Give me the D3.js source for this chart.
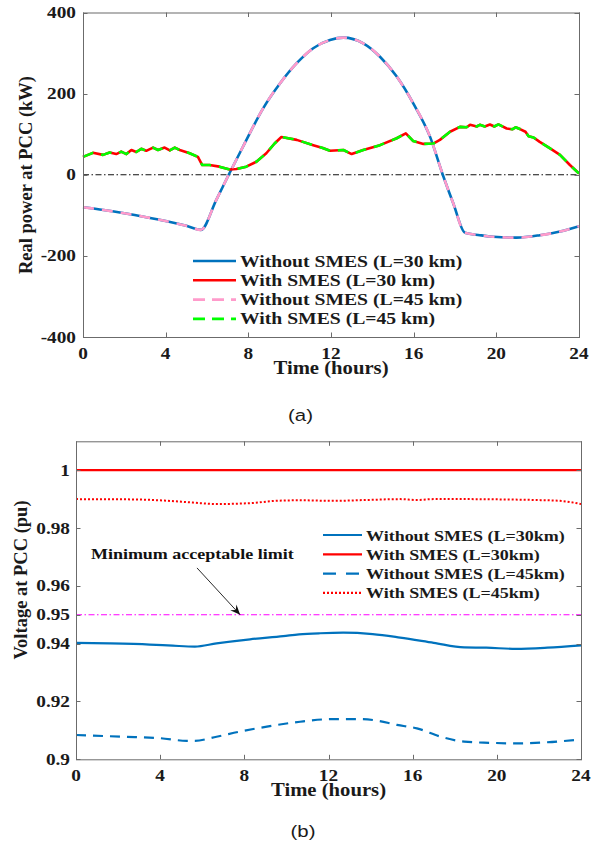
<!DOCTYPE html>
<html>
<head>
<meta charset="utf-8">
<script src="https://cdn.jsdelivr.net/npm/d3@7"></script>
<style>
  html, body { margin: 0; padding: 0; background: #fff; }
  svg { display: block; }
</style>
</head>
<body>
<svg id="chart" width="602" height="843"></svg>
<script>
// ---------------- DATA ----------------
// (a) Real power at PCC (kW) vs time (hours)
const xTicks = [0, 4, 8, 12, 16, 20, 24];
const powerTicks = [-400, -200, 0, 200, 400];

const powerTimeWithout = [0, 1, 2, 3, 4, 5, 5.7, 6.45, 7.05, 7.74, 8.73, 9.53, 10.34, 11.14, 11.95, 12.6, 13.56, 14.37, 15.18, 15.98, 16.79, 17.43, 17.92, 18.48, 19.2, 19.85, 20.98, 22.11, 23.08, 24];
const powerWithout30 = [-80, -87, -95, -104, -114, -126, -136, -62, 0, 69, 165, 225, 275, 312, 332, 338, 324, 291, 242, 176, 94, -3, -71, -143, -149, -153, -155, -149, -140, -127];
const powerWithout45 = [-80, -87, -95, -104, -114, -126, -136, -62, 0, 69, 165, 225, 275, 312, 332, 338, 324, 291, 242, 176, 94, -3, -71, -143, -149, -153, -155, -149, -140, -127];

const powerTimeWith = [0, 0.48, 0.97, 1.29, 1.61, 1.85, 2.1, 2.34, 2.58, 2.82, 3.06, 3.39, 3.63, 3.95, 4.2, 4.44, 4.68, 5.16, 5.56, 5.77, 6.12, 6.6, 7.1, 7.42, 7.9, 8.39, 8.87, 9.27, 9.6, 10.34, 11.14, 11.6, 11.95, 12.6, 13.0, 13.56, 14.37, 15.18, 15.62, 15.98, 16.47, 16.95, 17.27, 17.76, 18.24, 18.56, 18.73, 19.05, 19.2, 19.44, 19.69, 19.9, 20.1, 20.5, 20.77, 20.93, 21.17, 21.41, 21.56, 21.8, 22.1, 22.6, 23.08, 23.56, 24];
const powerWith30 = [44, 54, 49, 55, 51, 57, 51, 61, 56, 64, 59, 67, 61, 67, 60, 67, 61, 53, 44, 24, 24, 20, 13, 14, 20, 32, 53, 77, 93, 86, 73, 66, 59, 61, 51, 61, 73, 90, 102, 83, 76, 77, 86, 106, 118, 117, 123, 119, 123, 119, 124, 119, 124, 114, 112, 117, 112, 106, 95, 92, 81, 65, 49, 24, 3];
const powerWith45 = [44, 54, 49, 55, 51, 57, 51, 61, 56, 64, 59, 67, 61, 67, 60, 67, 61, 53, 44, 24, 24, 20, 13, 14, 20, 32, 53, 77, 93, 86, 73, 66, 59, 61, 51, 61, 73, 90, 102, 83, 76, 77, 86, 106, 118, 117, 123, 119, 123, 119, 124, 119, 124, 114, 112, 117, 112, 106, 95, 92, 81, 65, 49, 24, 3];

const powerLegend = ["Without SMES (L=30 km)", "With SMES (L=30 km)", "Without SMES (L=45 km)", "With SMES (L=45 km)"];

// (b) Voltage at PCC (pu) vs time (hours)
const voltTicks = [0.9, 0.92, 0.94, 0.95, 0.96, 0.98, 1];
const voltTicksLabels = ["0.9", "0.92", "0.94", "0.95", "0.96", "0.98", "1"];

const voltTimeWithout30 = [0, 1.6, 3.5, 4.6, 5.65, 6.68, 8.27, 9.85, 10.6, 11.6, 12.7, 14.1, 15.4, 17.0, 18.45, 19.5, 20.9, 22.4, 24];
const voltWithout30 = [0.9403, 0.9401, 0.9397, 0.9393, 0.9390, 0.9401, 0.9415, 0.9426, 0.9432, 0.9436, 0.9438, 0.9433, 0.9421, 0.9403, 0.9387, 0.9386, 0.9382, 0.9386, 0.9394];

const voltTimeWith30 = [0, 24];
const voltWith30 = [1.0, 1.0];

const voltTimeWithout45 = [0, 2.25, 4, 5.27, 5.65, 6.68, 7.8, 9.07, 10.65, 12.2, 13.5, 14.3, 15.25, 16.2, 17.35, 18.45, 19.7, 20.95, 22.4, 24];
const voltWithout45 = [0.9084, 0.9078, 0.9073, 0.9064, 0.9064, 0.9078, 0.9096, 0.9113, 0.9130, 0.9139, 0.9139, 0.9134, 0.9119, 0.9107, 0.9078, 0.9061, 0.9057, 0.9055, 0.9059, 0.9069];

const voltTimeWith45 = [0, 2.7, 4.2, 5.57, 6.68, 8.27, 9.5, 10.65, 12.2, 13.8, 15.4, 16.2, 17, 18.6, 20.2, 21.8, 23, 24];
const voltWith45 = [0.9900, 0.9899, 0.9895, 0.9888, 0.9883, 0.9886, 0.9894, 0.9896, 0.9894, 0.9897, 0.9900, 0.9897, 0.9900, 0.9900, 0.9899, 0.9897, 0.9894, 0.9883];

const minLimit = 0.95;
const voltLegend = ["Without SMES (L=30km)", "With SMES (L=30km)", "Without SMES (L=45km)", "With SMES (L=45km)"];

// ---------------- DRAWING ----------------
const svg = d3.select("#chart");
const SERIF = "'Liberation Serif', 'Times New Roman', serif";
const SANS = "'Liberation Sans', Arial, sans-serif";
const AXIS = "#6b6b6b";
const BLUE = "#0072BD", RED = "#FF0000", PINK = "#FF9BCB", GREEN = "#00FF00", MAGENTA = "#FF00FF";

function text(g, x, y, s, o) {
  o = o || {};
  const sx = o.sx || 1.17;
  const t = g.append("text")
    .attr("transform", `translate(${x},${y}) rotate(${o.rot || 0}) scale(${o.rot ? 1 : sx},1)`)
    .attr("font-family", o.family || SERIF)
    .attr("font-weight", o.weight || "bold")
    .attr("font-size", o.size || 16.5)
    .attr("text-anchor", o.anchor || "start")
    .attr("fill", o.fill || "#1a1a1a")
    .text(s);
  return t;
}

function zip(xs, ys) { return xs.map((x, i) => [x, ys[i]]); }

function frame(g, x, y, tickXs, tickYs) {
  const [x0, x1] = x.range(), [y0, y1] = y.range();
  const TL = 4.5;
  // ticks inside
  tickXs.forEach(v => {
    const px = Math.round(x(v)) + 0.5;
    g.append("line").attr("x1", px).attr("x2", px).attr("y1", y0).attr("y2", y0 - TL).attr("stroke", AXIS);
    g.append("line").attr("x1", px).attr("x2", px).attr("y1", y1).attr("y2", y1 + TL).attr("stroke", AXIS);
  });
  tickYs.forEach(v => {
    const py = Math.round(y(v)) + 0.5;
    g.append("line").attr("x1", x0).attr("x2", x0 + TL).attr("y1", py).attr("y2", py).attr("stroke", AXIS);
    g.append("line").attr("x1", x1).attr("x2", x1 - TL).attr("y1", py).attr("y2", py).attr("stroke", AXIS);
  });
  g.append("rect").attr("x", x0 + 0.5).attr("y", y1 + 0.5).attr("width", x1 - x0).attr("height", y0 - y1)
    .attr("fill", "none").attr("stroke", AXIS).attr("stroke-width", 1);
}

// ======== (a) ========
const xa = d3.scaleLinear().domain([0, 24]).range([83, 579]);
const ya = d3.scaleLinear().domain([-400, 400]).range([337, 12.5]);
const ga = svg.append("g");

const lineA = d3.line().x(d => xa(d[0])).y(d => ya(d[1]));
const lineAsmooth = d3.line().x(d => xa(d[0])).y(d => ya(d[1])).curve(d3.curveMonotoneX);

// zero reference line
ga.append("line").attr("x1", xa(0)).attr("x2", xa(24)).attr("y1", ya(0)).attr("y2", ya(0))
  .attr("stroke", "#111").attr("stroke-width", 1).attr("stroke-dasharray", "6,2.5,1.5,2.5");

ga.append("path").attr("d", lineAsmooth(zip(powerTimeWithout, powerWithout30)))
  .attr("fill", "none").attr("stroke", BLUE).attr("stroke-width", 2.6);
ga.append("path").attr("d", lineA(zip(powerTimeWith, powerWith30)))
  .attr("fill", "none").attr("stroke", RED).attr("stroke-width", 2.6).attr("stroke-linejoin", "round");
ga.append("path").attr("d", lineAsmooth(zip(powerTimeWithout, powerWithout45)))
  .attr("fill", "none").attr("stroke", PINK).attr("stroke-width", 2.6).attr("stroke-dasharray", "11,8");
ga.append("path").attr("d", lineA(zip(powerTimeWith, powerWith45)))
  .attr("fill", "none").attr("stroke", GREEN).attr("stroke-width", 2.6).attr("stroke-dasharray", "11,8").attr("stroke-linejoin", "round");

frame(ga, xa, ya, xTicks, powerTicks);

xTicks.forEach(v => text(ga, xa(v), 358.5, String(v), { anchor: "middle" }));
powerTicks.forEach(v => text(ga, 76, ya(v) + 5.5, String(v), { anchor: "end" }));
text(ga, (xa(0) + xa(24)) / 2, 374, "Time (hours)", { anchor: "middle", size: 18, sx: 1.15 });
text(ga, 32, 175, "Real power at PCC (kW)", { anchor: "middle", size: 18.5, rot: -90 });

// legend (a)
const legA = [
  { c: BLUE, dash: null }, { c: RED, dash: null },
  { c: PINK, dash: "12,7" }, { c: GREEN, dash: "12,7" }
];
legA.forEach((s, i) => {
  const yy = 261 + i * 19.3;
  ga.append("line").attr("x1", 193).attr("x2", 236).attr("y1", yy).attr("y2", yy)
    .attr("stroke", s.c).attr("stroke-width", 2.6).attr("stroke-dasharray", s.dash);
  text(ga, 240, yy + 5.5, powerLegend[i], { size: 16, sx: 1.23 });
});

text(svg, 300.5, 421, "(a)", { family: SANS, weight: "normal", size: 17, anchor: "middle", sx: 1.2 });

// ======== (b) ========
const xb = d3.scaleLinear().domain([0, 24]).range([76, 581]);
const yb = d3.scaleLinear().domain([0.9, 1.01]).range([759.3, 441.3]);
const gb = svg.append("g");
const lineB = d3.line().x(d => xb(d[0])).y(d => yb(d[1])).curve(d3.curveMonotoneX);

gb.append("line").attr("x1", xb(0)).attr("x2", xb(24)).attr("y1", yb(minLimit)).attr("y2", yb(minLimit))
  .attr("stroke", MAGENTA).attr("stroke-width", 1.2).attr("stroke-dasharray", "6,2.5,1.5,2.5");

gb.append("path").attr("d", lineB(zip(voltTimeWithout30, voltWithout30)))
  .attr("fill", "none").attr("stroke", BLUE).attr("stroke-width", 2.2);
gb.append("path").attr("d", lineB(zip(voltTimeWith30, voltWith30)))
  .attr("fill", "none").attr("stroke", RED).attr("stroke-width", 2.2);
gb.append("path").attr("d", lineB(zip(voltTimeWithout45, voltWithout45)))
  .attr("fill", "none").attr("stroke", BLUE).attr("stroke-width", 2.2).attr("stroke-dasharray", "10,7");
gb.append("path").attr("d", lineB(zip(voltTimeWith45, voltWith45)))
  .attr("fill", "none").attr("stroke", RED).attr("stroke-width", 2).attr("stroke-dasharray", "2,2");

frame(gb, xb, yb, xTicks, voltTicks);

xTicks.forEach(v => text(gb, xb(v), 780.5, String(v), { anchor: "middle" }));
voltTicks.forEach((v, i) => text(gb, 70, yb(v) + 5.5, voltTicksLabels[i], { anchor: "end" }));
text(gb, (xb(0) + xb(24)) / 2, 796, "Time (hours)", { anchor: "middle", size: 18, sx: 1.15 });
text(gb, 27, 580, "Voltage at PCC (pu)", { anchor: "middle", size: 18.5, rot: -90 });

// annotation
text(gb, xb(0.71), yb(0.9694), "Minimum acceptable limit", { size: 15, sx: 1.2, fill: "#111" });
const ax0 = xb(5.75), ay0 = yb(0.9662), ax1 = xb(7.8), ay1 = yb(minLimit);
gb.append("line").attr("x1", ax0).attr("y1", ay0).attr("x2", ax1).attr("y2", ay1)
  .attr("stroke", "#111").attr("stroke-width", 0.9);
{
  const ang = Math.atan2(ay1 - ay0, ax1 - ax0);
  const L = 10, W = 4.2, N = 6.5;
  const bx = ax1 - L * Math.cos(ang), by = ay1 - L * Math.sin(ang);
  const nx = ax1 - N * Math.cos(ang), ny = ay1 - N * Math.sin(ang);
  const px = -Math.sin(ang), py = Math.cos(ang);
  const p = d3.path();
  p.moveTo(ax1, ay1);
  p.lineTo(bx + W * px, by + W * py);
  p.lineTo(nx, ny);
  p.lineTo(bx - W * px, by - W * py);
  p.closePath();
  gb.append("path").attr("d", p.toString()).attr("fill", "#111");
}

// legend (b)
const legB = [
  { c: BLUE, dash: null }, { c: RED, dash: null },
  { c: BLUE, dash: "13,10" }, { c: RED, dash: "2,2" }
];
legB.forEach((s, i) => {
  const yy = 535 + i * 19.3;
  gb.append("line").attr("x1", 323).attr("x2", 362).attr("y1", yy).attr("y2", yy)
    .attr("stroke", s.c).attr("stroke-width", 2.2).attr("stroke-dasharray", s.dash);
  text(gb, 366, yy + 5.5, voltLegend[i], { size: 15, sx: 1.2 });
});

text(svg, 303, 837, "(b)", { family: SANS, weight: "normal", size: 17, anchor: "middle", sx: 1.2 });
</script>
</body>
</html>
